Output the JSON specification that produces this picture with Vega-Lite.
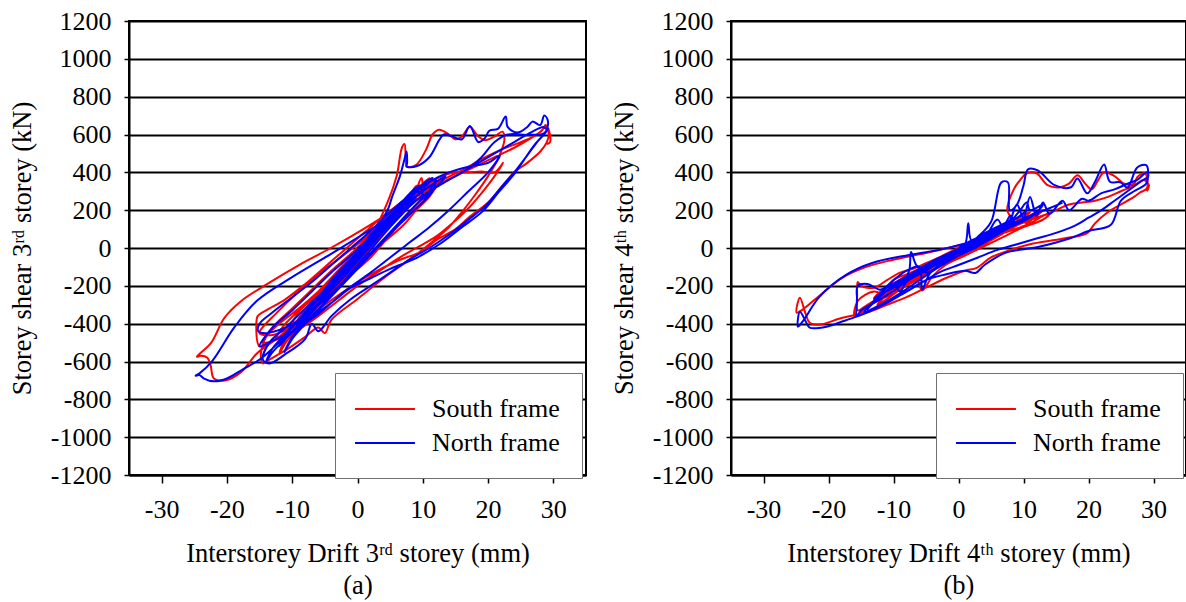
{
"$schema":"https://vega.github.io/schema/vega-lite/v6.json",
"background":"white",
"padding":{"left":8,"top":7,"right":0,"bottom":0},
"spacing":23,
"config":{"font":"Liberation Serif","view":{"stroke":"black","strokeWidth":2},
"style":{"guide-label":{"font":"Liberation Serif","fontSize":26,"fill":"black"},"guide-title":{"font":"Liberation Serif","fontSize":26,"fill":"black"}},
"axis":{"labelFont":"Liberation Serif","titleFont":"Liberation Serif","labelFontSize":26,"titleFontSize":26.5,"titleFontWeight":"normal","labelColor":"black","titleColor":"black","domainColor":"black","domainWidth":2,"tickColor":"black","tickWidth":1.5,"gridColor":"black","gridWidth":2,"gridOpacity":1,"labelExpr":"'' + datum.value"},
"legend":{"labelFont":"Liberation Serif"}},
"resolve":{"scale":{"color":"independent"},"legend":{"color":"independent"}},
"hconcat":[
{"width":457,"height":454,
"data":{"values":[
{"f":"S","x":0,"y":0},{"f":"S","x":2,"y":60},{"f":"S","x":4,"y":130},{"f":"S","x":5,"y":170},{"f":"S","x":4,"y":120},{"f":"S","x":2,"y":40},{"f":"S","x":0,"y":-40},{"f":"S","x":-2,"y":-110},{"f":"S","x":-4,"y":-190},{"f":"S","x":-5,"y":-230},{"f":"S","x":-4,"y":-170},{"f":"S","x":-2,"y":-90},{"f":"S","x":0,"y":-20},
{"f":"S","x":2,"y":80},{"f":"S","x":5,"y":180},{"f":"S","x":7.5,"y":260},{"f":"S","x":9,"y":330},{"f":"S","x":8.2,"y":280},{"f":"S","x":6,"y":190},{"f":"S","x":3,"y":70},{"f":"S","x":0,"y":-50},{"f":"S","x":-3,"y":-160},{"f":"S","x":-6,"y":-270},{"f":"S","x":-8.5,"y":-360},{"f":"S","x":-10,"y":-400},{"f":"S","x":-9,"y":-340},{"f":"S","x":-6.5,"y":-250},{"f":"S","x":-3.5,"y":-140},{"f":"S","x":-0.5,"y":-30},{"f":"S","x":2.5,"y":90},{"f":"S","x":5.5,"y":200},
{"f":"S","x":3,"y":120},{"f":"S","x":6,"y":210},{"f":"S","x":8,"y":280},{"f":"S","x":10,"y":340},{"f":"S","x":11,"y":370},{"f":"S","x":10,"y":320},{"f":"S","x":7,"y":210},{"f":"S","x":4,"y":100},{"f":"S","x":1,"y":-10},{"f":"S","x":-2,"y":-120},{"f":"S","x":-5,"y":-230},{"f":"S","x":-8,"y":-340},{"f":"S","x":-11,"y":-440},{"f":"S","x":-12.5,"y":-480},{"f":"S","x":-11.5,"y":-420},{"f":"S","x":-9,"y":-330},{"f":"S","x":-6,"y":-230},{"f":"S","x":-3,"y":-120},{"f":"S","x":0,"y":-10},{"f":"S","x":3,"y":100},{"f":"S","x":6,"y":200},{"f":"S","x":8.5,"y":270},{"f":"S","x":9.8,"y":370},{"f":"S","x":10.2,"y":300},{"f":"S","x":11.5,"y":350},{"f":"S","x":12.3,"y":340},{"f":"S","x":11,"y":280},{"f":"S","x":8,"y":180},{"f":"S","x":5,"y":80},{"f":"S","x":2,"y":-30},{"f":"S","x":-1,"y":-140},{"f":"S","x":-4,"y":-250},{"f":"S","x":-7,"y":-360},{"f":"S","x":-9.5,"y":-440},{"f":"S","x":-11,"y":-500},{"f":"S","x":-12,"y":-560},{"f":"S","x":-11,"y":-480},{"f":"S","x":-8,"y":-380},{"f":"S","x":-5,"y":-270},{"f":"S","x":-2,"y":-160},{"f":"S","x":1,"y":-40},{"f":"S","x":4,"y":80},{"f":"S","x":7,"y":190},{"f":"S","x":9,"y":260},
{"f":"S","x":8,"y":250},{"f":"S","x":6,"y":160},{"f":"S","x":3,"y":40},{"f":"S","x":0,"y":-70},{"f":"S","x":-3,"y":-170},{"f":"S","x":-6,"y":-290},{"f":"S","x":-8,"y":-370},{"f":"S","x":-10,"y":-430},{"f":"S","x":-9,"y":-370},{"f":"S","x":-7,"y":-280},{"f":"S","x":-4,"y":-170},{"f":"S","x":-1,"y":-50},{"f":"S","x":2,"y":60},{"f":"S","x":4.7,"y":250},{"f":"S","x":6,"y":380},{"f":"S","x":6.8,"y":530},{"f":"S","x":7.2,"y":550},{"f":"S","x":7.4,"y":470},{"f":"S","x":7.6,"y":430},{"f":"S","x":9,"y":440},{"f":"S","x":10.5,"y":520},{"f":"S","x":11.5,"y":600},{"f":"S","x":12.5,"y":625},{"f":"S","x":14,"y":600},{"f":"S","x":15,"y":575},{"f":"S","x":16,"y":590},{"f":"S","x":17.2,"y":640},{"f":"S","x":18.5,"y":590},{"f":"S","x":19.5,"y":570},{"f":"S","x":21,"y":590},{"f":"S","x":22.2,"y":615},{"f":"S","x":22.5,"y":570},{"f":"S","x":21.5,"y":470},{"f":"S","x":20,"y":380},{"f":"S","x":18,"y":280},{"f":"S","x":16,"y":190},{"f":"S","x":14,"y":110},{"f":"S","x":11,"y":20},{"f":"S","x":8,"y":-60},{"f":"S","x":4,"y":-160},{"f":"S","x":0,"y":-270},{"f":"S","x":-4,"y":-380},{"f":"S","x":-5,"y":-450},{"f":"S","x":-6,"y":-420},{"f":"S","x":-8,"y":-470},{"f":"S","x":-11,"y":-540},{"f":"S","x":-13.5,"y":-590},{"f":"S","x":-14.5,"y":-610},{"f":"S","x":-14.8,"y":-560},{"f":"S","x":-14,"y":-470},{"f":"S","x":-12,"y":-400},{"f":"S","x":-9,"y":-320},{"f":"S","x":-6,"y":-230},{"f":"S","x":-3,"y":-130},{"f":"S","x":0,"y":-30},{"f":"S","x":3,"y":80},{"f":"S","x":6,"y":190},{"f":"S","x":9,"y":290},{"f":"S","x":11,"y":340},{"f":"S","x":12,"y":360},{"f":"S","x":10.5,"y":290},{"f":"S","x":8,"y":190},{"f":"S","x":5,"y":70},{"f":"S","x":2,"y":-50},{"f":"S","x":-2,"y":-170},{"f":"S","x":-6,"y":-300},{"f":"S","x":-10,"y":-420},{"f":"S","x":-13,"y":-490},{"f":"S","x":-15,"y":-520},{"f":"S","x":-15.5,"y":-400},{"f":"S","x":-15.3,"y":-360},{"f":"S","x":-14,"y":-330},{"f":"S","x":-11,"y":-270},{"f":"S","x":-8,"y":-190},{"f":"S","x":-5,"y":-100},{"f":"S","x":-2,"y":-10},{"f":"S","x":1,"y":80},{"f":"S","x":4,"y":170},{"f":"S","x":7,"y":250},{"f":"S","x":10,"y":330},{"f":"S","x":13,"y":380},{"f":"S","x":15,"y":400},{"f":"S","x":17,"y":400},{"f":"S","x":19,"y":405},{"f":"S","x":21,"y":400},{"f":"S","x":22.3,"y":450},{"f":"S","x":21,"y":380},{"f":"S","x":19,"y":290},{"f":"S","x":17,"y":210},{"f":"S","x":14.5,"y":130},{"f":"S","x":12,"y":60},{"f":"S","x":9,"y":0},{"f":"S","x":6,"y":-60},{"f":"S","x":3,"y":-130},{"f":"S","x":0,"y":-200},{"f":"S","x":-3,"y":-280},{"f":"S","x":-6,"y":-360},{"f":"S","x":-9,"y":-430},{"f":"S","x":-12,"y":-480},{"f":"S","x":-14.5,"y":-500},{"f":"S","x":-13,"y":-420},{"f":"S","x":-10,"y":-320},{"f":"S","x":-7,"y":-220},{"f":"S","x":-4,"y":-120},{"f":"S","x":-1,"y":-30},{"f":"S","x":2,"y":70},{"f":"S","x":5,"y":170},{"f":"S","x":8,"y":250},{"f":"S","x":10,"y":300},{"f":"S","x":12,"y":330},{"f":"S","x":11,"y":270},{"f":"S","x":9,"y":200},{"f":"S","x":7,"y":120},{"f":"S","x":4,"y":30},{"f":"S","x":1,"y":-60},{"f":"S","x":-2,"y":-150},{"f":"S","x":-5,"y":-250},{"f":"S","x":-8,"y":-350},{"f":"S","x":-11,"y":-430},{"f":"S","x":-13,"y":-460},{"f":"S","x":-15,"y":-450},{"f":"S","x":-12,"y":-330},{"f":"S","x":-9,"y":-230},{"f":"S","x":-6,"y":-140},{"f":"S","x":-3,"y":-60},{"f":"S","x":0,"y":20},{"f":"S","x":3,"y":110},{"f":"S","x":6,"y":200},{"f":"S","x":9,"y":270},{"f":"S","x":12,"y":330},{"f":"S","x":15,"y":380},{"f":"S","x":18,"y":430},{"f":"S","x":21,"y":480},{"f":"S","x":24,"y":530},{"f":"S","x":26.5,"y":580},{"f":"S","x":28.2,"y":620},{"f":"S","x":28.8,"y":650},{"f":"S","x":29.3,"y":600},{"f":"S","x":29,"y":560},{"f":"S","x":28,"y":510},{"f":"S","x":26,"y":450},{"f":"S","x":24,"y":400},{"f":"S","x":22,"y":320},{"f":"S","x":20,"y":240},{"f":"S","x":17,"y":160},{"f":"S","x":15,"y":100},{"f":"S","x":12,"y":40},{"f":"S","x":10,"y":-15},{"f":"S","x":6,"y":-70},{"f":"S","x":2,"y":-140},{"f":"S","x":-2.5,"y":-240},{"f":"S","x":-7,"y":-350},{"f":"S","x":-11,"y":-450},{"f":"S","x":-14,"y":-520},{"f":"S","x":-15.5,"y":-560},{"f":"S","x":-17.8,"y":-655},{"f":"S","x":-20.3,"y":-700},{"f":"S","x":-22,"y":-690},{"f":"S","x":-22.5,"y":-620},{"f":"S","x":-23,"y":-580},{"f":"S","x":-24,"y":-570},{"f":"S","x":-24.6,"y":-575},{"f":"S","x":-24.2,"y":-560},{"f":"S","x":-22.4,"y":-500},{"f":"S","x":-20.4,"y":-370},{"f":"S","x":-17.8,"y":-280},{"f":"S","x":-13.8,"y":-190},{"f":"S","x":-8.7,"y":-85},{"f":"S","x":-4.1,"y":0},{"f":"S","x":0.9,"y":100},{"f":"S","x":3,"y":145},{"f":"S","x":5,"y":190},{"f":"S","x":7,"y":240},{"f":"S","x":10,"y":300},{"f":"S","x":13,"y":360},{"f":"S","x":16,"y":410},{"f":"S","x":19,"y":470},{"f":"S","x":22,"y":520},{"f":"S","x":25,"y":560},{"f":"S","x":27.5,"y":600},{"f":"S","x":29,"y":640},{"f":"S","x":29.5,"y":560},{"f":"S","x":29,"y":550},
{"f":"N","x":0,"y":0},{"f":"N","x":2,"y":50},{"f":"N","x":4,"y":120},{"f":"N","x":6,"y":190},{"f":"N","x":5,"y":140},{"f":"N","x":3,"y":60},{"f":"N","x":0,"y":-50},{"f":"N","x":-3,"y":-160},{"f":"N","x":-5,"y":-240},{"f":"N","x":-6,"y":-290},{"f":"N","x":-4,"y":-200},{"f":"N","x":-2,"y":-110},{"f":"N","x":1,"y":20},
{"f":"N","x":2,"y":70},{"f":"N","x":5,"y":170},{"f":"N","x":7.5,"y":270},{"f":"N","x":9,"y":320},{"f":"N","x":8,"y":270},{"f":"N","x":6,"y":180},{"f":"N","x":3,"y":60},{"f":"N","x":0,"y":-60},{"f":"N","x":-3,"y":-170},{"f":"N","x":-6,"y":-290},{"f":"N","x":-8.5,"y":-380},{"f":"N","x":-9.5,"y":-430},{"f":"N","x":-8.5,"y":-360},{"f":"N","x":-6,"y":-260},{"f":"N","x":-3.5,"y":-150},{"f":"N","x":-0.5,"y":-40},{"f":"N","x":2.5,"y":80},{"f":"N","x":5.5,"y":190},
{"f":"N","x":3,"y":100},{"f":"N","x":6,"y":200},{"f":"N","x":8.5,"y":290},{"f":"N","x":10.5,"y":350},{"f":"N","x":11.5,"y":370},{"f":"N","x":10,"y":310},{"f":"N","x":7,"y":200},{"f":"N","x":4,"y":90},{"f":"N","x":1,"y":-20},{"f":"N","x":-2,"y":-130},{"f":"N","x":-5,"y":-250},{"f":"N","x":-8,"y":-370},{"f":"N","x":-10.5,"y":-460},{"f":"N","x":-12,"y":-520},{"f":"N","x":-11,"y":-450},{"f":"N","x":-8.5,"y":-360},{"f":"N","x":-6,"y":-260},{"f":"N","x":-3,"y":-140},{"f":"N","x":0,"y":-30},{"f":"N","x":3,"y":90},{"f":"N","x":6,"y":200},{"f":"N","x":8,"y":260},{"f":"N","x":9.5,"y":330},{"f":"N","x":10.2,"y":260},{"f":"N","x":11,"y":300},{"f":"N","x":12,"y":360},{"f":"N","x":11.5,"y":300},{"f":"N","x":9,"y":210},{"f":"N","x":6,"y":110},{"f":"N","x":3,"y":0},{"f":"N","x":0,"y":-110},{"f":"N","x":-3,"y":-220},{"f":"N","x":-6,"y":-330},{"f":"N","x":-8.5,"y":-420},{"f":"N","x":-10,"y":-480},{"f":"N","x":-11.2,"y":-550},{"f":"N","x":-10,"y":-470},{"f":"N","x":-7,"y":-360},{"f":"N","x":-4,"y":-250},{"f":"N","x":-1,"y":-130},{"f":"N","x":2,"y":-10},{"f":"N","x":5,"y":110},{"f":"N","x":8,"y":220},{"f":"N","x":10,"y":290},
{"f":"N","x":9,"y":300},{"f":"N","x":10,"y":330},{"f":"N","x":8,"y":260},{"f":"N","x":5,"y":130},{"f":"N","x":2,"y":10},{"f":"N","x":-2,"y":-150},{"f":"N","x":-5,"y":-260},{"f":"N","x":-8,"y":-380},{"f":"N","x":-11,"y":-480},{"f":"N","x":-13,"y":-550},{"f":"N","x":-14,"y":-600},{"f":"N","x":-13,"y":-530},{"f":"N","x":-10,"y":-420},{"f":"N","x":-7,"y":-310},{"f":"N","x":-4,"y":-190},{"f":"N","x":-1,"y":-60},{"f":"N","x":2,"y":60},{"f":"N","x":4.6,"y":200},{"f":"N","x":5.3,"y":270},{"f":"N","x":6.5,"y":380},{"f":"N","x":7.2,"y":470},{"f":"N","x":7.5,"y":510},{"f":"N","x":7.6,"y":450},{"f":"N","x":7.5,"y":430},{"f":"N","x":9,"y":432},{"f":"N","x":11,"y":480},{"f":"N","x":12.5,"y":570},{"f":"N","x":13.2,"y":600},{"f":"N","x":14.5,"y":590},{"f":"N","x":16,"y":575},{"f":"N","x":17.2,"y":645},{"f":"N","x":18.5,"y":560},{"f":"N","x":19.5,"y":580},{"f":"N","x":20.2,"y":620},{"f":"N","x":21.5,"y":630},{"f":"N","x":22.7,"y":695},{"f":"N","x":23,"y":640},{"f":"N","x":24.5,"y":610},{"f":"N","x":26,"y":640},{"f":"N","x":26.8,"y":668},{"f":"N","x":28,"y":650},{"f":"N","x":28.6,"y":700},{"f":"N","x":29.1,"y":680},{"f":"N","x":29,"y":626},{"f":"N","x":27.5,"y":560},{"f":"N","x":26,"y":490},{"f":"N","x":24,"y":400},{"f":"N","x":22,"y":320},{"f":"N","x":19.5,"y":220},{"f":"N","x":17,"y":150},{"f":"N","x":14,"y":70},{"f":"N","x":11,"y":0},{"f":"N","x":8,"y":-60},{"f":"N","x":5,"y":-130},{"f":"N","x":2,"y":-200},{"f":"N","x":-1,"y":-270},{"f":"N","x":-4,"y":-360},{"f":"N","x":-6,"y":-440},{"f":"N","x":-7,"y":-400},{"f":"N","x":-8,"y":-480},{"f":"N","x":-11,"y":-560},{"f":"N","x":-13.5,"y":-610},{"f":"N","x":-14.5,"y":-590},{"f":"N","x":-13.5,"y":-500},{"f":"N","x":-11,"y":-420},{"f":"N","x":-8,"y":-320},{"f":"N","x":-5,"y":-220},{"f":"N","x":-2,"y":-110},{"f":"N","x":1,"y":0},{"f":"N","x":4,"y":110},{"f":"N","x":7,"y":220},{"f":"N","x":10,"y":300},{"f":"N","x":12.5,"y":360},{"f":"N","x":13.5,"y":380},{"f":"N","x":12,"y":320},{"f":"N","x":9,"y":230},{"f":"N","x":6,"y":120},{"f":"N","x":3,"y":10},{"f":"N","x":0,"y":-100},{"f":"N","x":-4,"y":-240},{"f":"N","x":-8,"y":-360},{"f":"N","x":-11,"y":-420},{"f":"N","x":-14,"y":-450},{"f":"N","x":-15.2,"y":-440},{"f":"N","x":-15,"y":-400},{"f":"N","x":-13,"y":-340},{"f":"N","x":-10,"y":-260},{"f":"N","x":-7,"y":-180},{"f":"N","x":-4,"y":-90},{"f":"N","x":-1,"y":0},{"f":"N","x":2,"y":90},{"f":"N","x":5,"y":190},{"f":"N","x":8,"y":280},{"f":"N","x":11,"y":350},{"f":"N","x":14,"y":400},{"f":"N","x":17,"y":430},{"f":"N","x":20,"y":450},{"f":"N","x":21.8,"y":490},{"f":"N","x":20,"y":400},{"f":"N","x":17,"y":300},{"f":"N","x":14,"y":200},{"f":"N","x":11,"y":110},{"f":"N","x":8,"y":30},{"f":"N","x":5,"y":-50},{"f":"N","x":2,"y":-130},{"f":"N","x":-2,"y":-230},{"f":"N","x":-6,"y":-350},{"f":"N","x":-10,"y":-440},{"f":"N","x":-13,"y":-490},{"f":"N","x":-15,"y":-520},{"f":"N","x":-13,"y":-420},{"f":"N","x":-10,"y":-330},{"f":"N","x":-7,"y":-230},{"f":"N","x":-4,"y":-130},{"f":"N","x":-1,"y":-40},{"f":"N","x":2,"y":60},{"f":"N","x":5,"y":150},{"f":"N","x":8,"y":230},{"f":"N","x":11,"y":300},{"f":"N","x":14,"y":360},{"f":"N","x":17,"y":420},{"f":"N","x":19,"y":480},{"f":"N","x":21,"y":560},{"f":"N","x":23,"y":600},{"f":"N","x":26,"y":598},{"f":"N","x":28.5,"y":605},{"f":"N","x":29.2,"y":630},{"f":"N","x":28.8,"y":610},{"f":"N","x":27,"y":540},{"f":"N","x":24.2,"y":400},{"f":"N","x":21.5,"y":290},{"f":"N","x":19.2,"y":195},{"f":"N","x":16,"y":110},{"f":"N","x":12.6,"y":21},{"f":"N","x":9,"y":-53},{"f":"N","x":5,"y":-110},{"f":"N","x":2,"y":-160},{"f":"N","x":-1,"y":-210},{"f":"N","x":-4,"y":-290},{"f":"N","x":-8,"y":-390},{"f":"N","x":-12,"y":-500},{"f":"N","x":-15,"y":-590},{"f":"N","x":-17.5,"y":-640},{"f":"N","x":-20,"y":-690},{"f":"N","x":-22,"y":-705},{"f":"N","x":-23.5,"y":-690},{"f":"N","x":-24.2,"y":-672},{"f":"N","x":-24.8,"y":-675},{"f":"N","x":-24.2,"y":-663},{"f":"N","x":-22.2,"y":-595},{"f":"N","x":-18.9,"y":-421},{"f":"N","x":-15.4,"y":-279},{"f":"N","x":-10.2,"y":-158},{"f":"N","x":-4.1,"y":-32},{"f":"N","x":0.9,"y":74},{"f":"N","x":3,"y":120},{"f":"N","x":6,"y":180},{"f":"N","x":9,"y":250},{"f":"N","x":12,"y":320},{"f":"N","x":15,"y":380},{"f":"N","x":18,"y":440},{"f":"N","x":21,"y":500},{"f":"N","x":24,"y":560},{"f":"N","x":26.5,"y":610},{"f":"N","x":28.5,"y":640},{"f":"N","x":29.1,"y":620}
]},
"encoding":{
"x":{"field":"x","type":"quantitative","scale":{"domain":[-35,35],"nice":false,"zero":false},"axis":{"values":[-30,-20,-10,0,10,20,30],"grid":false,"tickSize":8,"labelPadding":13,"titlePadding":18,"titleLineHeight":32,"labelFont":"Liberation Serif","labelFontSize":26,"titleFont":"Liberation Serif","title":["Interstorey Drift 3ʳᵈ storey (mm)","(a)"]}},
"y":{"field":"y","type":"quantitative","scale":{"domain":[-1200,1200],"nice":false},"axis":{"values":[-1200,-1000,-800,-600,-400,-200,0,200,400,600,800,1000,1200],"grid":true,"tickSize":5,"labelPadding":13,"titlePadding":14,"labelFont":"Liberation Serif","labelFontSize":26,"titleFont":"Liberation Serif","title":"Storey shear 3ʳᵈ storey (kN)"}},
"color":{"field":"f","type":"nominal","scale":{"domain":["S","N"],"range":["#ff0000","#0000ff"]},"legend":{"orient":"none","legendX":206,"legendY":352,"title":null,"symbolType":"M-1.23,0H3.38","symbolSize":676,"symbolStrokeWidth":2,"labelFontSize":26,"labelFont":"Liberation Serif","labelColor":"black","padding":22,"rowPadding":7,"labelOffset":47,"strokeColor":"#707070","fillColor":"white","labelExpr":"datum.label == 'S' ? 'South frame' : 'North frame'"}},
"order":{"value":null}
},
"layer":[
{"transform":[{"filter":"datum.f == 'S'"}],"mark":{"type":"line","strokeWidth":2,"clip":true,"interpolate":"catmull-rom"}},
{"transform":[{"filter":"datum.f == 'N'"}],"mark":{"type":"line","strokeWidth":2,"clip":true,"interpolate":"catmull-rom"}}
]},
{"width":455,"height":454,
"data":{"values":[
{"f":"S","x":0,"y":0},{"f":"S","x":2,"y":30},{"f":"S","x":4,"y":60},{"f":"S","x":6,"y":90},{"f":"S","x":5,"y":60},{"f":"S","x":3,"y":20},{"f":"S","x":0,"y":-30},{"f":"S","x":-3,"y":-80},{"f":"S","x":-6,"y":-140},{"f":"S","x":-8,"y":-180},{"f":"S","x":-7,"y":-140},{"f":"S","x":-4,"y":-90},{"f":"S","x":-1,"y":-30},
{"f":"S","x":2,"y":30},{"f":"S","x":5,"y":70},{"f":"S","x":7,"y":100},{"f":"S","x":8.5,"y":140},{"f":"S","x":7.5,"y":110},{"f":"S","x":5,"y":60},{"f":"S","x":2,"y":10},{"f":"S","x":-1,"y":-40},{"f":"S","x":-4,"y":-100},{"f":"S","x":-7,"y":-160},{"f":"S","x":-9.5,"y":-200},{"f":"S","x":-11,"y":-230},{"f":"S","x":-10,"y":-190},{"f":"S","x":-8,"y":-150},{"f":"S","x":-5,"y":-100},{"f":"S","x":-2,"y":-50},{"f":"S","x":1,"y":0},{"f":"S","x":4,"y":50},{"f":"S","x":7,"y":90},{"f":"S","x":9.5,"y":150},{"f":"S","x":10.5,"y":130},{"f":"S","x":12,"y":180},{"f":"S","x":11,"y":150},
{"f":"S","x":9,"y":150},{"f":"S","x":11,"y":190},{"f":"S","x":10,"y":160},{"f":"S","x":7,"y":110},{"f":"S","x":4,"y":50},{"f":"S","x":1,"y":-10},{"f":"S","x":-2,"y":-60},{"f":"S","x":-5,"y":-120},{"f":"S","x":-8,"y":-180},{"f":"S","x":-11,"y":-240},{"f":"S","x":-13,"y":-270},{"f":"S","x":-12,"y":-230},{"f":"S","x":-9,"y":-170},{"f":"S","x":-6,"y":-110},{"f":"S","x":-3,"y":-60},{"f":"S","x":0,"y":-10},{"f":"S","x":3,"y":30},{"f":"S","x":6,"y":80},{"f":"S","x":9,"y":130},{"f":"S","x":11.5,"y":170},{"f":"S","x":13,"y":200},{"f":"S","x":12,"y":170},{"f":"S","x":9,"y":120},{"f":"S","x":6,"y":70},{"f":"S","x":3,"y":20},{"f":"S","x":0,"y":-40},{"f":"S","x":-3,"y":-100},{"f":"S","x":-6,"y":-160},{"f":"S","x":-9,"y":-220},{"f":"S","x":-11,"y":-270},{"f":"S","x":-12.5,"y":-300},{"f":"S","x":-11,"y":-250},{"f":"S","x":-8,"y":-180},{"f":"S","x":-5,"y":-120},{"f":"S","x":-2,"y":-60},{"f":"S","x":1,"y":0},{"f":"S","x":4,"y":50},
{"f":"S","x":2,"y":20},{"f":"S","x":5,"y":60},{"f":"S","x":8,"y":110},{"f":"S","x":10,"y":140},{"f":"S","x":8,"y":100},{"f":"S","x":5,"y":40},{"f":"S","x":2,"y":-20},{"f":"S","x":-2,"y":-80},{"f":"S","x":-6,"y":-150},{"f":"S","x":-9,"y":-210},{"f":"S","x":-12,"y":-260},{"f":"S","x":-14,"y":-300},{"f":"S","x":-15.5,"y":-330},{"f":"S","x":-15.6,"y":-250},{"f":"S","x":-15.5,"y":-180},{"f":"S","x":-15,"y":-200},{"f":"S","x":-13,"y":-210},{"f":"S","x":-11,"y":-170},{"f":"S","x":-9,"y":-130},{"f":"S","x":-7,"y":-110},{"f":"S","x":-5,"y":-80},{"f":"S","x":-3,"y":-50},{"f":"S","x":0,"y":0},{"f":"S","x":3,"y":40},{"f":"S","x":6,"y":80},{"f":"S","x":9,"y":120},{"f":"S","x":12,"y":160},{"f":"S","x":14,"y":180},{"f":"S","x":13,"y":150},{"f":"S","x":10,"y":110},{"f":"S","x":7,"y":60},{"f":"S","x":4,"y":10},{"f":"S","x":1,"y":-40},{"f":"S","x":-2,"y":-90},{"f":"S","x":-4,"y":-150},{"f":"S","x":-5.6,"y":-225},{"f":"S","x":-6.5,"y":-160},{"f":"S","x":-8,"y":-190},{"f":"S","x":-10,"y":-240},{"f":"S","x":-13,"y":-290},{"f":"S","x":-15,"y":-340},{"f":"S","x":-16,"y":-360},{"f":"S","x":-15.5,"y":-280},{"f":"S","x":-13,"y":-230},{"f":"S","x":-11,"y":-250},{"f":"S","x":-10,"y":-170},{"f":"S","x":-8,"y":-140},{"f":"S","x":-6,"y":-110},{"f":"S","x":-4,"y":-80},{"f":"S","x":-2,"y":-50},{"f":"S","x":1,"y":10},{"f":"S","x":4,"y":60},{"f":"S","x":6,"y":110},{"f":"S","x":7,"y":90},{"f":"S","x":8,"y":160},{"f":"S","x":7.5,"y":200},{"f":"S","x":8.5,"y":310},{"f":"S","x":9.5,"y":360},{"f":"S","x":10.5,"y":395},{"f":"S","x":12,"y":395},{"f":"S","x":13.7,"y":332},{"f":"S","x":15.5,"y":320},{"f":"S","x":17,"y":340},{"f":"S","x":18.3,"y":384},{"f":"S","x":19.5,"y":340},{"f":"S","x":20.5,"y":310},{"f":"S","x":21.5,"y":360},{"f":"S","x":22.4,"y":400},{"f":"S","x":24,"y":380},{"f":"S","x":25.5,"y":340},{"f":"S","x":27,"y":340},{"f":"S","x":27.5,"y":374},{"f":"S","x":28.7,"y":395},{"f":"S","x":29,"y":316},{"f":"S","x":28,"y":295},{"f":"S","x":27,"y":270},{"f":"S","x":25,"y":230},{"f":"S","x":23,"y":190},{"f":"S","x":21,"y":130},{"f":"S","x":19.8,"y":79},{"f":"S","x":17,"y":55},{"f":"S","x":14.8,"y":42},{"f":"S","x":11,"y":20},{"f":"S","x":8,"y":-10},{"f":"S","x":5,"y":-50},{"f":"S","x":2.8,"y":-105},{"f":"S","x":1,"y":-120},{"f":"S","x":-2,"y":-160},{"f":"S","x":-5,"y":-210},{"f":"S","x":-8,"y":-260},{"f":"S","x":-11,"y":-300},{"f":"S","x":-14,"y":-340},{"f":"S","x":-15.7,"y":-353},{"f":"S","x":-18,"y":-370},{"f":"S","x":-21.4,"y":-405},{"f":"S","x":-22.9,"y":-395},{"f":"S","x":-23.5,"y":-350},{"f":"S","x":-24.4,"y":-263},{"f":"S","x":-24.9,"y":-342},{"f":"S","x":-24,"y":-326},{"f":"S","x":-22,"y":-270},{"f":"S","x":-20.3,"y":-221},{"f":"S","x":-17.9,"y":-158},{"f":"S","x":-14.2,"y":-100},{"f":"S","x":-10.2,"y":-63},{"f":"S","x":-5,"y":-26},{"f":"S","x":-1,"y":5},{"f":"S","x":3,"y":40},{"f":"S","x":7,"y":80},{"f":"S","x":11,"y":130},{"f":"S","x":13,"y":170},{"f":"S","x":15,"y":200},{"f":"S","x":17,"y":230},{"f":"S","x":19,"y":240},{"f":"S","x":21,"y":250},{"f":"S","x":23,"y":270},{"f":"S","x":25,"y":300},{"f":"S","x":27,"y":330},{"f":"S","x":28.5,"y":360},{"f":"S","x":29.3,"y":330},{"f":"S","x":29,"y":300},
{"f":"N","x":0,"y":0},{"f":"N","x":2,"y":40},{"f":"N","x":4,"y":70},{"f":"N","x":6,"y":100},{"f":"N","x":5,"y":70},{"f":"N","x":2,"y":20},{"f":"N","x":-1,"y":-30},{"f":"N","x":-4,"y":-90},{"f":"N","x":-7,"y":-150},{"f":"N","x":-9,"y":-200},{"f":"N","x":-8,"y":-160},{"f":"N","x":-5,"y":-100},{"f":"N","x":-2,"y":-40},
{"f":"N","x":2,"y":30},{"f":"N","x":5,"y":80},{"f":"N","x":7,"y":120},{"f":"N","x":8,"y":170},{"f":"N","x":8.5,"y":130},{"f":"N","x":7,"y":100},{"f":"N","x":4,"y":50},{"f":"N","x":1,"y":-10},{"f":"N","x":-2,"y":-60},{"f":"N","x":-5,"y":-120},{"f":"N","x":-8,"y":-180},{"f":"N","x":-9,"y":-230},{"f":"N","x":-10,"y":-190},{"f":"N","x":-12,"y":-240},{"f":"N","x":-13,"y":-270},{"f":"N","x":-11,"y":-210},{"f":"N","x":-8,"y":-150},{"f":"N","x":-5,"y":-100},{"f":"N","x":-2,"y":-50},{"f":"N","x":1,"y":10},{"f":"N","x":4,"y":60},{"f":"N","x":7,"y":110},{"f":"N","x":9,"y":160},
{"f":"N","x":3,"y":60},{"f":"N","x":6,"y":110},{"f":"N","x":9,"y":160},{"f":"N","x":10.5,"y":200},{"f":"N","x":9.5,"y":170},{"f":"N","x":7,"y":120},{"f":"N","x":4,"y":60},{"f":"N","x":1,"y":0},{"f":"N","x":-2,"y":-50},{"f":"N","x":-5,"y":-110},{"f":"N","x":-8,"y":-170},{"f":"N","x":-10,"y":-210},{"f":"N","x":-12,"y":-250},{"f":"N","x":-13.5,"y":-300},{"f":"N","x":-12,"y":-250},{"f":"N","x":-9,"y":-180},{"f":"N","x":-6,"y":-120},{"f":"N","x":-3,"y":-70},{"f":"N","x":0,"y":-20},{"f":"N","x":3,"y":40},{"f":"N","x":6,"y":90},{"f":"N","x":8,"y":140},{"f":"N","x":9.5,"y":200},{"f":"N","x":10.5,"y":240},{"f":"N","x":11,"y":200},{"f":"N","x":13,"y":230},{"f":"N","x":12,"y":190},{"f":"N","x":9,"y":140},{"f":"N","x":6,"y":80},{"f":"N","x":3,"y":20},{"f":"N","x":0,"y":-40},{"f":"N","x":-3,"y":-100},{"f":"N","x":-6,"y":-170},{"f":"N","x":-9,"y":-240},{"f":"N","x":-12,"y":-300},{"f":"N","x":-14,"y":-330},{"f":"N","x":-12.5,"y":-270},{"f":"N","x":-10,"y":-200},{"f":"N","x":-7,"y":-140},{"f":"N","x":-4,"y":-80},{"f":"N","x":-1,"y":-30},{"f":"N","x":1,"y":20},
{"f":"N","x":1.5,"y":131},{"f":"N","x":2,"y":40},{"f":"N","x":4,"y":60},{"f":"N","x":7,"y":100},{"f":"N","x":10,"y":150},{"f":"N","x":12,"y":190},{"f":"N","x":11,"y":160},{"f":"N","x":8,"y":110},{"f":"N","x":5,"y":50},{"f":"N","x":2,"y":-10},{"f":"N","x":-2,"y":-70},{"f":"N","x":-5,"y":-130},{"f":"N","x":-6.5,"y":-90},{"f":"N","x":-7.3,"y":-21},{"f":"N","x":-7.6,"y":-120},{"f":"N","x":-9,"y":-200},{"f":"N","x":-12,"y":-270},{"f":"N","x":-15,"y":-330},{"f":"N","x":-15.7,"y":-363},{"f":"N","x":-15.6,"y":-280},{"f":"N","x":-15.5,"y":-200},{"f":"N","x":-14,"y":-190},{"f":"N","x":-12,"y":-220},{"f":"N","x":-10,"y":-170},{"f":"N","x":-8,"y":-120},{"f":"N","x":-6,"y":-100},{"f":"N","x":-5.6,"y":-221},{"f":"N","x":-4.5,"y":-140},{"f":"N","x":-2,"y":-60},{"f":"N","x":0,"y":-10},{"f":"N","x":3,"y":60},{"f":"N","x":5,"y":137},{"f":"N","x":6.6,"y":347},{"f":"N","x":7.6,"y":347},{"f":"N","x":7.9,"y":200},{"f":"N","x":9,"y":230},{"f":"N","x":10,"y":330},{"f":"N","x":10.7,"y":416},{"f":"N","x":12.2,"y":410},{"f":"N","x":14.8,"y":332},{"f":"N","x":17.3,"y":321},{"f":"N","x":18.3,"y":368},{"f":"N","x":19.8,"y":289},{"f":"N","x":21,"y":350},{"f":"N","x":22.4,"y":442},{"f":"N","x":23.3,"y":350},{"f":"N","x":24.9,"y":347},{"f":"N","x":26,"y":320},{"f":"N","x":27.5,"y":426},{"f":"N","x":28.9,"y":437},{"f":"N","x":28.9,"y":342},{"f":"N","x":27,"y":300},{"f":"N","x":25,"y":250},{"f":"N","x":23.4,"y":121},{"f":"N","x":20,"y":90},{"f":"N","x":17.3,"y":53},{"f":"N","x":12.2,"y":5},{"f":"N","x":7.2,"y":-26},{"f":"N","x":4,"y":-90},{"f":"N","x":2.6,"y":-132},{"f":"N","x":1,"y":-120},{"f":"N","x":-2,"y":-140},{"f":"N","x":-5,"y":-170},{"f":"N","x":-8,"y":-230},{"f":"N","x":-11,"y":-290},{"f":"N","x":-14,"y":-340},{"f":"N","x":-15.7,"y":-363},{"f":"N","x":-18,"y":-390},{"f":"N","x":-20.3,"y":-416},{"f":"N","x":-22.9,"y":-421},{"f":"N","x":-23.4,"y":-395},{"f":"N","x":-24.4,"y":-337},{"f":"N","x":-24.7,"y":-416},{"f":"N","x":-23.8,"y":-380},{"f":"N","x":-21.4,"y":-258},{"f":"N","x":-17.3,"y":-142},{"f":"N","x":-13.3,"y":-79},{"f":"N","x":-7.6,"y":-37},{"f":"N","x":-3,"y":-10},{"f":"N","x":0,"y":15},{"f":"N","x":4,"y":60},{"f":"N","x":6,"y":150},{"f":"N","x":7,"y":100},{"f":"N","x":8,"y":150},{"f":"N","x":9,"y":230},{"f":"N","x":10,"y":160},{"f":"N","x":11,"y":270},{"f":"N","x":12,"y":170},{"f":"N","x":13,"y":240},{"f":"N","x":14,"y":180},{"f":"N","x":16,"y":250},{"f":"N","x":17,"y":200},{"f":"N","x":19,"y":260},{"f":"N","x":20,"y":250},{"f":"N","x":22,"y":290},{"f":"N","x":24,"y":310},{"f":"N","x":26,"y":340},{"f":"N","x":27.5,"y":360},{"f":"N","x":29,"y":400},{"f":"N","x":29.2,"y":380},{"f":"N","x":28,"y":350},{"f":"N","x":26,"y":300},{"f":"N","x":24,"y":250},{"f":"N","x":22,"y":200},{"f":"N","x":20,"y":160},{"f":"N","x":18,"y":120},{"f":"N","x":15,"y":80},{"f":"N","x":12,"y":50},{"f":"N","x":9,"y":20},{"f":"N","x":6,"y":-10},{"f":"N","x":3,"y":-50},{"f":"N","x":0,"y":-90},{"f":"N","x":-3,"y":-130},{"f":"N","x":-6,"y":-190},{"f":"N","x":-9,"y":-250},{"f":"N","x":-12,"y":-300},{"f":"N","x":-14.5,"y":-340},{"f":"N","x":-13,"y":-280},{"f":"N","x":-10,"y":-200},{"f":"N","x":-7,"y":-130},{"f":"N","x":-4,"y":-70},{"f":"N","x":-1,"y":-20},{"f":"N","x":2,"y":30},{"f":"N","x":5,"y":80},{"f":"N","x":8,"y":120},{"f":"N","x":11,"y":170},{"f":"N","x":14,"y":210},{"f":"N","x":16,"y":240}
]},
"encoding":{
"x":{"field":"x","type":"quantitative","scale":{"domain":[-35,35],"nice":false,"zero":false},"axis":{"values":[-30,-20,-10,0,10,20,30],"grid":false,"tickSize":8,"labelPadding":13,"titlePadding":18,"titleLineHeight":32,"labelFont":"Liberation Serif","labelFontSize":26,"titleFont":"Liberation Serif","title":["Interstorey Drift 4ᵗʰ storey (mm)","(b)"]}},
"y":{"field":"y","type":"quantitative","scale":{"domain":[-1200,1200],"nice":false},"axis":{"values":[-1200,-1000,-800,-600,-400,-200,0,200,400,600,800,1000,1200],"grid":true,"tickSize":5,"labelPadding":13,"titlePadding":14,"labelFont":"Liberation Serif","labelFontSize":26,"titleFont":"Liberation Serif","title":"Storey shear 4ᵗʰ storey (kN)"}},
"color":{"field":"f","type":"nominal","scale":{"domain":["S","N"],"range":["#ff0000","#0000ff"]},"legend":{"orient":"none","legendX":205,"legendY":352,"title":null,"symbolType":"M-1.23,0H3.38","symbolSize":676,"symbolStrokeWidth":2,"labelFontSize":26,"labelFont":"Liberation Serif","labelColor":"black","padding":22,"rowPadding":7,"labelOffset":47,"strokeColor":"#707070","fillColor":"white","labelExpr":"datum.label == 'S' ? 'South frame' : 'North frame'"}},
"order":{"value":null}
},
"layer":[
{"transform":[{"filter":"datum.f == 'S'"}],"mark":{"type":"line","strokeWidth":2,"clip":true,"interpolate":"catmull-rom"}},
{"transform":[{"filter":"datum.f == 'N'"}],"mark":{"type":"line","strokeWidth":2,"clip":true,"interpolate":"catmull-rom"}}
]}
]
}
